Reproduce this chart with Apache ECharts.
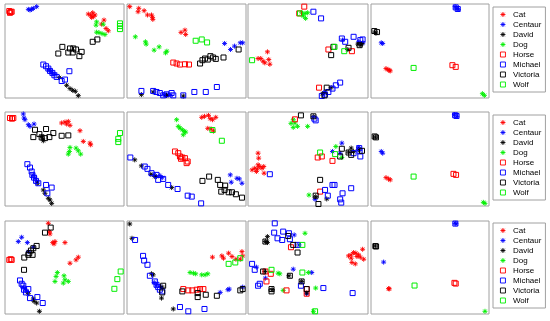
<!DOCTYPE html>
<html><head><meta charset="utf-8">
<script src="https://cdn.jsdelivr.net/npm/echarts@6/dist/echarts.min.js"></script>
<style>html,body{margin:0;padding:0;background:#fff}#c{width:550px;height:321px}</style>
</head><body><div id="c"></div>
<script>
const classNames = ['Cat','Centaur','David','Dog','Horse','Michael','Victoria','Wolf'];

// one entry per panel (row-major, 3 rows x 4 cols), points as [x, y] on a 0-100 scale
const cat = [
 [[70,89.3],[72,88.3],[73.7,90.7],[75.6,88.3],[74.2,86.5],[72.8,85.8],[83.2,82.9],[81.2,78.6],[84.9,74],[86.8,71.5]],
 [[2.3,97.2],[9.9,95.4],[9.3,91.8],[14.4,92.9],[17.2,88.3],[20.6,88.3],[21.4,85.8],[21.7,83.6],[45.4,69.8],[48.7,72.2],[49.3,67.6]],
 [[16.2,49.1],[8.4,42],[10.6,42],[12.6,39.1],[17.3,40.9],[14,37.4],[18.2,35.9]],
 [[12.7,31.3],[14.4,30.2],[15.5,29.5],[16.3,28.8]],
 [[47.6,88.3],[50.4,89.3],[53.2,90],[54.6,85.8],[51.8,87.2],[63,80.1],[65.8,68.7],[71.4,66.9],[72,65.1]],
 [[62.8,94.3],[65.1,95.4],[68.5,96.4],[69.9,92.9],[71.9,91.8],[74.6,94.3],[67.9,82.6],[70.7,81.9],[72.7,79.7]],
 [[8.4,56.2],[8.9,50.9],[8.4,43.8],[3.4,38.4],[5.6,40.2],[7.8,39.5],[9.8,42],[11.7,40.2],[13.1,42],[13.4,34.9],[7,36.7]],
 [[12.7,30.2],[14.9,28.8],[16.3,27.8]],
 [[36.4,97.5],[37.8,86.1],[37.3,88.6],[40.1,76.8],[42,77.9],[41.2,75.4],[50.4,76.8],[54.6,54.6],[59.7,58.2],[61.6,61.1]],
 [[71.8,61.1],[79.7,62.5],[81.1,60],[85.4,65.4],[88.2,61.8],[91.5,58.9],[96.6,67.1],[97.2,62.5],[95.2,58.9]],
 [[83.8,62.5],[86,63.6],[88,66.1],[89.9,65.4],[92.2,63.6],[93.6,61.1],[95.5,69.6],[96.4,58.9],[86.6,55.4],[89.4,53.9],[86,60],[90.8,61.8]],
 [[14.9,27.3],[15.5,27]]
];
const centaur = [
 [[19.6,94.3],[21,93.6],[22.4,94.3],[23.8,95.4],[26.6,97.2],[37,30],[38.5,28],[40,26.5],[42,25]],
 [[82,58],[87,51.6],[90.4,55.2],[95.2,58.7],[97.2,58.7],[31,3.5],[33,3],[35,4],[37,3]],
 [[78.8,61.6],[92.2,59.8],[93.6,58],[95.8,58.7],[64.2,6.4],[62.8,4.6]],
 [[71.3,97.2],[72.7,95.4],[74.1,94.3],[8.7,58.7],[9.9,58]],
 [[15.4,97.9],[16,93.6],[16.8,91.8],[19.6,86.5],[21,84.7],[24.4,87.2],[23.8,32.4],[25.2,29.5],[26.6,26.7]],
 [[22.8,33.1],[24.8,31.3],[27.6,32.4],[29.6,30.2],[86.8,33.1],[87.6,25.3],[92.4,29.5],[94.4,28.8],[96.6,24.2]],
 [[78.2,66.9],[76.8,56.2],[70.4,58],[92.2,62.3],[55.9,7.1]],
 [[70.7,97.2],[72.7,95.4],[8.7,58],[9.9,56.2]],
 [[11.2,77.9],[14,82.5],[18.8,76.8],[23.8,71.8],[19.6,67.1],[15.4,28.9],[16.8,26.8],[18.2,24.3]],
 [[22.8,33.9],[24.8,31.4],[27.6,29.6],[78.3,23.2],[84.8,26.1],[85.9,26.8],[97.2,28.9]],
 [[38.5,85],[42.5,74.3],[7,50.4],[37.7,48.2],[53.1,44.6],[14.5,38.6],[48.9,21.8]],
 [[71.3,97.5],[72,97],[10.7,55.8]]
];
const david = [
 [[45.7,21.7],[51.8,13.5],[54.6,10],[56.9,8.2],[59.1,7.1],[61.6,2.5]],
 [[12.1,3.6],[22,6.4],[33.2,2.8],[47.3,2.1]],
 [[91.6,57.3],[93.9,56.2],[95,58],[83.2,51.6],[69.3,11],[62,4.6]],
 [[3.1,70.1],[4.2,69]],
 [[30.8,74],[31.7,71.5],[32.2,69.4],[27.2,24.2],[32.2,17.1],[33.6,13.5],[36.4,8.2],[37.8,6.4],[39.2,2.8]],
 [[6.5,49.1],[12.1,42.7],[20,33.8],[23.4,31.3],[37.5,19.6]],
 [[54.5,95],[86,61.6],[83.8,57.3],[88,58],[92.2,59.8],[56.4,10],[65.6,7.5]],
 [[3.7,73.3]],
 [[19.6,21.8],[23.8,16.1],[24.4,13.6],[26.6,11.8],[28.9,2.9]],
 [[2.3,96.8],[4.2,81.4],[20.6,43.2],[22,42.1],[29,17.1],[38.9,5.4],[29.6,28.9]],
 [[16.2,83.2],[14.5,77.9],[16.2,76.8],[14,45.7],[20.1,26.1],[44.7,35],[48.9,22.5],[34.1,41.1]],
 [[3.7,73]]
];
const dog = [
 [[77,81],[76.5,77.5],[82.5,78.5],[77,70],[79,69.5],[81.5,68.5],[84,67.5]],
 [[7,65.1],[15.5,59.8],[16.1,57.3],[22.8,50.9],[27,54.4],[32.4,48],[33.5,49.8]],
 [[44.7,90.7],[47.5,90],[49.7,90.7],[46.1,87.2],[48,84.7]],
 [[94.4,4.6],[96.1,2.8]],
 [[54.6,62.3],[54.1,58],[53.2,55.2],[59.7,61.6],[61.6,58.7],[63.6,55.2]],
 [[41.7,91.8],[43.1,84.7],[44.5,82.9],[46.5,81.1],[48.2,79.4],[47.3,75.8],[49.3,78.6]],
 [[37.7,91.8],[39.1,88.3],[41.3,84.7],[37.7,83.6],[49.7,84.7],[73.2,63.3],[78.2,51.6],[50.8,11.7],[35.8,87.9]],
 [[95.2,3.9],[96.6,2.8]],
 [[44,44.6],[42.9,40.4],[42,35],[49.6,41.1],[50.4,36.8],[53.2,35],[49,33.2]],
 [[53,44.6],[55.8,43.9],[57.7,43.2],[62.8,42.1],[65.6,42.1],[67.9,43.2]],
 [[47.5,86.8],[25.1,43.9],[26.5,43.2],[50.3,44.6],[56.4,27.9],[29.3,25.4],[54.5,2.9]],
 [[96.6,2.9]]
];
const horse = [
 [[3.6,92.5],[4.8,91.5],[5.6,91.8],[4.2,90.6]],
 [[38.9,37.7],[41.7,36.7],[44.5,35.6],[48.7,35.9],[52.1,35.6]],
 [[46.9,97.2],[42.7,90],[67,51.6],[86.6,49.8],[59.2,11]],
 [[69,34.9],[71.8,33.1]],
 [[4.2,93.6],[5.9,92.9],[7,93.6]],
 [[40.3,58],[43.1,56.2],[44.5,52.7],[46.5,51.6],[48.7,50.9],[51,47.3],[50.1,45.6],[45.4,50.2]],
 [[39.1,92.2],[58.1,51.6],[61.5,52.7],[70.4,48],[60.1,15.3]],
 [[69.9,34.2],[72.1,33.1]],
 [[3.6,58.2],[5.6,58.2],[4.8,58.9]],
 [[47.3,26.8],[51.5,25.4],[54.9,25.4],[58.6,26.1],[61.4,26.8],[64.2,26.8]],
 [[35.8,71.8],[14.5,45.7],[15.4,35],[19,43.2],[32.1,25.4],[48.9,26.8],[48.9,21.8]],
 [[70.7,33.5],[71.8,32.7]]
];
const michael = [
 [[32.2,35.6],[34.5,33.8],[36.4,31.3],[37.8,28.8],[39.8,26.7],[41.5,24.2],[43.4,22.4],[47.6,18.1],[50.4,19.6],[54.1,28.5]],
 [[12.1,7.5],[22,7.5],[24.8,6.4],[27.6,5.3],[30.4,2.8],[33.2,3.9],[37.5,5.3],[38.9,2.8],[47.3,2.8],[56.6,6.4],[66.2,6.4],[75.5,11.7]],
 [[54.5,91.8],[60.9,84.7],[78.2,63.3],[81,59.8],[88,65.1],[93.6,61.6],[95.5,62.3],[76.8,16.4],[73.2,13.5],[70.4,10],[67,6.4],[64.2,3.6],[61.5,2.1]],
 [[71.8,96.4],[73.5,94.7]],
 [[18.8,44.5],[21,40.9],[22.4,36.7],[23,33.1],[24.4,30.2],[26.1,26.7],[28,24.2],[34.5,22.4],[39.2,19.6],[35.6,13.5]],
 [[2.8,51.6],[14.9,42],[17.2,39.5],[20.6,34.9],[24.8,33.1],[26.2,27.8],[30.4,28.8],[34.6,22.4],[42.5,18.1],[51,11],[54.4,10],[62.3,2.8]],
 [[55.3,92.9],[56.4,91.1],[18.2,33.8],[64.2,17.1],[70.4,22.4],[72.1,22.4],[66.5,11],[76.8,7.1],[77.7,3.6],[78.8,13.5],[86,18.9],[93,58.7],[93.6,52.7],[88,56.2],[92.7,61.6]],
 [[71.3,96.5],[72.5,95.8]],
 [[12.6,36.1],[14,32.5],[15.4,30.4],[16,26.1],[17.6,23.2],[19.6,26.8],[27.2,18.2],[31.7,11.8],[21,17.1]],
 [[6.8,79.6],[13.5,62.5],[14.4,57.5],[17.2,52.9],[19.2,41.1],[23.4,35],[24.8,31.4],[26.2,28.9],[27.6,26.1],[29.6,24.3],[44.5,7.5],[51.5,2.9],[65.1,5.4]],
 [[22.3,97.5],[21.8,87.5],[24.6,81.4],[29.3,88.6],[28.5,79.6],[34.1,86.8],[34.9,80.4],[41.3,74.3],[3.4,53.9],[5.6,47.5],[8.4,30.4],[9.8,32.5],[44.1,30.4],[62.8,27.9],[87.2,22.5]],
 [[71.5,97.2]]
];
const victoria = [
 [[48.2,54.4],[54.6,52.7],[57.4,52.7],[59.7,51.6],[53.2,48.4],[56.9,48.4],[64.4,49.1],[44.8,47.3],[62.5,44.5],[73.7,59.8],[77.6,62.3]],
 [[61.4,36.7],[63.4,40.2],[65.6,42],[67.9,40.9],[70.1,44.5],[72.4,43.1],[74.6,41.6],[81.1,43.1],[93.8,51.6]],
 [[71.2,54.4],[69.3,45.6],[83.8,53.4],[93,56.2],[65.6,11],[63.7,2.8]],
 [[2.8,71.2],[5.1,70.1]],
 [[25.2,81.1],[34.5,81.9],[23.8,73.3],[28.9,76.5],[30.8,73],[33.6,72.2],[37.3,73.3],[40.6,77.6],[47.6,74.7],[53.2,75.1]],
 [[63.4,26.7],[69,31.3],[76.3,27.8],[78.3,22.4],[82.5,21.7],[79.2,15.3],[82,17.1],[85.4,14.6],[88.2,14.6],[91.5,12.5],[96.6,8.9]],
 [[44.1,96.4],[54.5,95.4],[78.2,60.9],[60.1,27.8],[56.4,11],[58.7,2.1],[86,54.4],[95,58.7],[83.8,56.9],[76.8,52.7]],
 [[3.1,74],[4.2,73]],
 [[38.4,92.9],[33.6,87.5],[26.6,73.2],[23.8,70.7],[21.8,68.2],[20.4,65.4],[19.6,63.6],[16.2,60.7],[16,47.5],[23.2,63.6]],
 [[30.4,30.4],[46.5,24.3],[59.4,22.5],[59.4,18.2],[66.2,20.7],[75.5,19.6],[95.2,25.4],[97.2,26.8],[29.6,23.2]],
 [[33.5,83.9],[37.7,74.3],[41.3,66.1],[14.5,77.9],[12.6,45.7],[19.6,26.8],[19.6,24.3],[34.9,41.1],[44.7,35],[48.9,26.8]],
 [[3.7,73],[4.3,72.6]]
];
const wolf = [
 [[96.6,79.4],[96.6,76.5],[96.6,73.3]],
 [[57.7,60.9],[62.8,62.3],[67.3,59.1]],
 [[43.3,90],[3.4,40.2],[72.1,54.4],[80.2,49.8]],
 [[36.1,32]],
 [[96.6,77.6],[95.2,71.5],[95.2,68]],
 [[71.8,80.8],[79.7,69.4]],
 [[60.1,56.9],[72.6,55.2]],
 [[36.1,31.3]],
 [[97.2,45.7],[94.4,37.5],[91.9,27.1]],
 [[85.4,53.9],[91,55.4],[95.2,60]],
 [[45.3,74.3],[45.3,44.6],[19.6,47.5],[55.9,2.9]],
 [[36.9,30.6]]
];

const classData = [cat, centaur, david, dog, horse, michael, victoria, wolf];
const classColors = ['#ff0000','#0000ff','#000000','#00ee00','#ff0000','#0000ff','#000000','#00ee00'];
const STAR = 'path://M5,0L5,10M0,5L10,5M1.5,1.5L8.5,8.5M1.5,8.5L8.5,1.5';
const SQUARE = 'path://M0,0L10,0L10,10L0,10Z';

const colLeft = [5, 127, 248, 371];
const colWidth = [119, 119, 120, 118];
const rowTop = [4, 112, 221];
const rowHeight = [94, 94, 93];
const legendTop = [7, 115, 223];

const grids = [], xAxes = [], yAxes = [], series = [];
for (let r = 0; r < 3; r++) {
  for (let c = 0; c < 4; c++) {
    const idx = r * 4 + c;
    grids.push({left: colLeft[c], top: rowTop[r], width: colWidth[c], height: rowHeight[r],
      show: true, borderColor: '#a0a0a0', borderWidth: 1, backgroundColor: '#fff'});
    const ax = {gridIndex: idx, type: 'value', min: 0, max: 100,
      axisLine: {show: false}, axisTick: {show: false}, axisLabel: {show: false}, splitLine: {show: false}};
    xAxes.push(Object.assign({}, ax));
    yAxes.push(Object.assign({}, ax));
  }
}
classNames.forEach((name, k) => {
  for (let p = 0; p < 12; p++) {
    series.push({
      type: 'scatter', name: name, xAxisIndex: p, yAxisIndex: p,
      data: classData[k][p], clip: false, silent: true,
      symbol: k < 4 ? STAR : 'rect', symbolSize: 5,
      itemStyle: {color: 'rgba(0,0,0,0)', borderColor: classColors[k], borderWidth: k < 4 ? 0.9 : 1, opacity: 1}
    });
  }
});
const legendData = classNames.map((name, k) => ({
  name: name,
  icon: k < 4 ? STAR : SQUARE,
  itemStyle: {color: 'rgba(0,0,0,0)', borderColor: classColors[k], borderWidth: 0.9}
}));
const legends = legendTop.map(t => ({
  show: true, orient: 'vertical', left: 493, top: t,
  data: legendData, selectedMode: false, symbolKeepAspect: true,
  itemWidth: 10, itemHeight: 5, itemGap: 1,
  padding: [3, 4, 3, 7],
  borderColor: '#a0a0a0', borderWidth: 1, backgroundColor: '#fff',
  textStyle: {fontSize: 8, lineHeight: 9, color: '#000', fontFamily: 'Liberation Sans, Arial, sans-serif'}
}));

const chart = echarts.init(document.getElementById('c'), null, {renderer: 'canvas'});
chart.setOption({
  animation: false,
  grid: grids, xAxis: xAxes, yAxis: yAxes,
  legend: legends,
  series: series
});
</script>
</body></html>
